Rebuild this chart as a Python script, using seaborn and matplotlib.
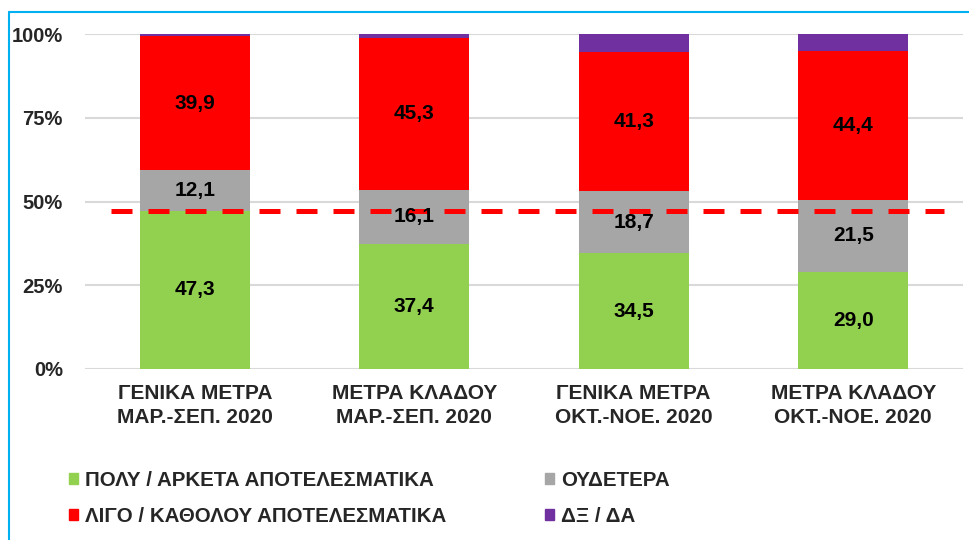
import matplotlib
matplotlib.use("Agg")
import matplotlib.pyplot as plt
import matplotlib.patches as mpatches
from matplotlib.lines import Line2D
import seaborn as sns
import pandas as pd
import numpy as np

categories = ["ΓΕΝΙΚΑ ΜΕΤΡΑ\nΜΑΡ.-ΣΕΠ. 2020", "ΜΕΤΡΑ ΚΛΑΔΟΥ\nΜΑΡ.-ΣΕΠ. 2020",
              "ΓΕΝΙΚΑ ΜΕΤΡΑ\nΟΚΤ.-ΝΟΕ. 2020", "ΜΕΤΡΑ ΚΛΑΔΟΥ\nΟΚΤ.-ΝΟΕ. 2020"]
poly = [47.3, 37.4, 34.5, 29.0]
oudetera = [12.1, 16.1, 18.7, 21.5]
ligo = [39.9, 45.3, 41.3, 44.4]
dxda = [0.7, 1.2, 5.5, 5.1]
series_names = ["ΠΟΛΥ / ΑΡΚΕΤΑ ΑΠΟΤΕΛΕΣΜΑΤΙΚΑ", "ΟΥΔΕΤΕΡΑ",
                "ΛΙΓΟ / ΚΑΘΟΛΟΥ ΑΠΟΤΕΛΕΣΜΑΤΙΚΑ", "ΔΞ / ΔΑ"]
reference_level = 47.3
colors = ["#92D050", "#A6A6A6", "#FF0000", "#7030A0"]

sns.set_theme(style="white")
plt.rcParams["font.family"] = ["Liberation Sans", "DejaVu Sans"]
plt.rcParams["font.weight"] = "bold"

fig = plt.figure(figsize=(9.69, 5.4), dpi=100)
ax = fig.add_axes([85/969, 1-369/540, (963-85)/969, (369-34)/540])

series = [poly, oudetera, ligo, dxda]
cum = np.cumsum(np.array(series), axis=0)
for i in range(3, -1, -1):
    df = pd.DataFrame({"cat": categories, "val": cum[i]})
    sns.barplot(data=df, x="cat", y="val", color=colors[i], width=0.5,
                saturation=1, ax=ax, edgecolor="none", linewidth=0, zorder=2)

bottoms = np.vstack([np.zeros(4), cum[:-1]])
for i in range(3):
    for j in range(4):
        yc = bottoms[i][j] + series[i][j] / 2
        ax.text(j, yc, f"{series[i][j]:.1f}".replace(".", ","), ha="center", va="center",
                fontsize=15, fontweight="bold", color="black", zorder=5)

ax.axhline(reference_level, xmin=(111-85)/878, xmax=(944-85)/878, color="#FF0000",
           lw=3.6, dashes=(4.2, 3.2), zorder=4)

ax.set_ylim(0, 100)
ax.set_xlim(-0.5, 3.5)
ax.set_yticks([0, 25, 50, 75, 100])
ax.set_yticklabels(["0%", "25%", "50%", "75%", "100%"], fontsize=14.5, fontweight="bold")
ax.set_xticks(range(4))
ax.set_xticklabels(categories, fontsize=15, fontweight="bold", linespacing=1.35)
ax.tick_params(axis="y", length=0, pad=16)
ax.tick_params(axis="x", length=0, pad=10.5)
ax.set_xlabel("")
ax.set_ylabel("")
for s in ax.spines.values():
    s.set_visible(False)
ax.yaxis.grid(True, color="#D9D9D9", lw=1.5, zorder=0)
ax.set_axisbelow(True)

order = [0, 2, 1, 3]
handles = [mpatches.Patch(color=colors[k]) for k in order]
labels = [series_names[k] for k in order]
fig.legend(handles, labels, loc="upper left", bbox_to_anchor=(50/969, 1-452/540),
           ncol=2, frameon=False, prop={"weight": "bold", "size": 14.8},
           handlelength=0.45, handleheight=0.45, handletextpad=0.35, columnspacing=4.8,
           labelspacing=0.85)

fig.add_artist(Line2D([8.5/969, 8.5/969], [0, 1-12/540], transform=fig.transFigure,
                      color="#00B0F0", lw=1.5))
fig.add_artist(Line2D([8.5/969, 1], [1-12/540, 1-12/540], transform=fig.transFigure,
                      color="#00B0F0", lw=1.5))

fig.savefig("out.png", dpi=100)
